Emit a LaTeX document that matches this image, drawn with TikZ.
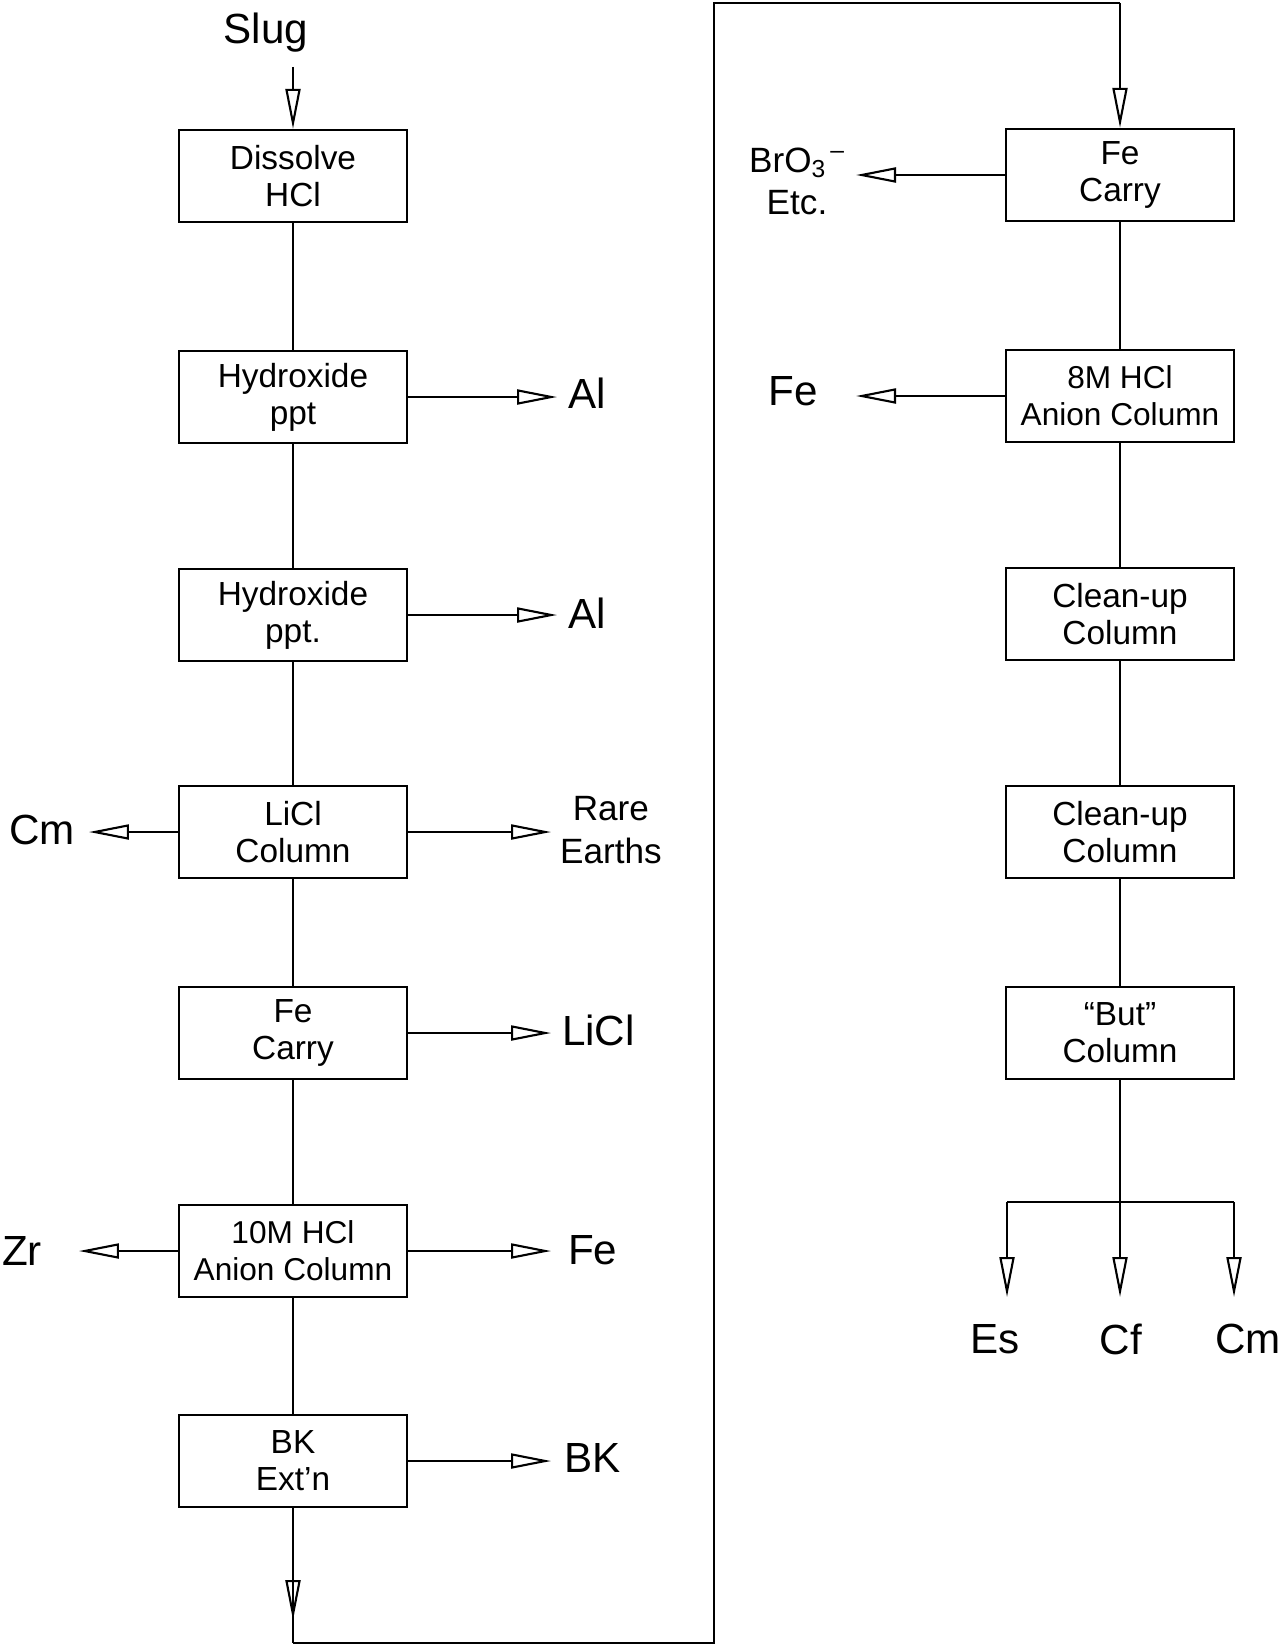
\documentclass[tikz,border=0pt]{standalone}
\usepackage{fontspec}
\setmainfont{Liberation Sans}
\usetikzlibrary{arrows.meta,decorations.markings}
\begin{document}
\begin{tikzpicture}[x=0.02cm,y=-0.02cm,
  box/.style={draw, line width=1.1pt, minimum width=4.55cm, minimum height=1.85cm, align=center, font=\fontsize{19}{21}\selectfont, inner sep=0pt},
  lab/.style={font=\fontsize{24}{25}\selectfont, align=center, inner sep=1pt},
  slab/.style={font=\fontsize{20}{24}\selectfont, align=center, inner sep=1pt},
  conn/.style={line width=1.4pt},
  arr/.style={conn, -{Triangle[open, length=0.8cm, width=0.3cm, line width=1.2pt]}},
  midarr/.style={conn, postaction={decorate}, decoration={markings, mark=at position #1 with {\arrow{Triangle[open, length=0.8cm, width=0.3cm, line width=1.2pt]}}}}
]
\fill[white] (0,0) rectangle (1281,1646);
\useasboundingbox (0,0) rectangle (1281,1646);

% left column
\node[lab] (slug) at (266,33) {Slug};
\node[box] (dis) at (293,176) {Dissolve\\HCl};
\node[box] (hyd1) at (293,397) {Hydroxide\\ppt};
\node[box] (hyd2) at (293,615) {Hydroxide\\ppt.};
\node[box] (licl) at (293,832) {LiCl\\Column};
\node[box] (fec) at (293,1033) {Fe\\Carry};
\node[box, font=\fontsize{18}{21}\selectfont] (an10) at (293,1251) {10M HCl\\Anion Column};
\node[box] (bk) at (293,1461) {BK\\Ext'n};

% right column
\node[box] (fe2) at (1120,175) {Fe\\Carry};
\node[box, font=\fontsize{18}{21}\selectfont] (an8) at (1120,396) {8M HCl\\Anion Column};
\node[box] (cu1) at (1120,614) {Clean-up\\Column};
\node[box] (cu2) at (1120,832) {Clean-up\\Column};
\node[box] (but) at (1120,1033) {“But”\\Column};

% outputs left column
\coordinate (e1) at (557,397);
\coordinate (e2) at (557,615);
\coordinate (e3) at (551,832);
\coordinate (e4) at (551,1033);
\coordinate (e5) at (551,1251);
\coordinate (e6) at (551,1461);
\coordinate (w3) at (89,832);
\coordinate (w5) at (79,1251);
\node[lab, anchor=west] (al1) at (566,393) {Al};
\node[lab, anchor=west] (al2) at (566,613) {Al};
\node[slab, anchor=west] (re) at (558,830) {Rare\\Earths};
\node[lab, anchor=west] (li) at (560,1030) {LiCl};
\node[lab, anchor=west] (fe3) at (566,1250) {Fe};
\node[lab, anchor=west] (bko) at (562,1458) {BK};
\node[lab] (cm1) at (42,830) {Cm};
\node[lab] (zr) at (22,1251) {Zr};

% outputs right column
\coordinate (w1) at (856,175);
\coordinate (w2) at (856,396);
\node[slab] (bro) at (797,181) {BrO\textsubscript{3}\textsuperscript{\,–}\\Etc.};
\node[lab] (fe4) at (793,391) {Fe};

% branch
\coordinate (j) at (1120,1202);
\coordinate (jl) at (1007,1202);
\coordinate (jr) at (1234,1202);
\coordinate (ees) at (1007,1297);
\coordinate (ecf) at (1120,1297);
\coordinate (ecm) at (1234,1297);
\node[lab] (es) at (995,1339) {Es};
\node[lab] (cf) at (1121,1339) {Cf};
\node[lab] (cm2) at (1248,1339) {Cm};

% loop
\coordinate (c1) at (293,1643);
\coordinate (c2) at (714,1643);
\coordinate (c3) at (714,3);
\coordinate (c4) at (1120,3);

% connectors
\draw[arr] (slug.south -| dis.north) ++(0,12) -- (dis.north);
\draw[conn] (dis) -- (hyd1);
\draw[conn] (hyd1) -- (hyd2);
\draw[conn] (hyd2) -- (licl);
\draw[conn] (licl) -- (fec);
\draw[conn] (fec) -- (an10);
\draw[conn] (an10) -- (bk);
\draw[arr] (hyd1.east) -- (e1);
\draw[arr] (hyd2.east) -- (e2);
\draw[arr] (licl.east) -- (e3);
\draw[arr] (fec.east) -- (e4);
\draw[arr] (an10.east) -- (e5);
\draw[arr] (bk.east) -- (e6);
\draw[arr] (licl.west) -- (w3);
\draw[arr] (an10.west) -- (w5);

\draw[midarr=0.83] (bk.south) -- (c1);
\draw[conn] (c1) -- (c2) -- (c3) -- (c4);
\draw[arr] (c4) -- (fe2.north);

\draw[conn] (fe2) -- (an8);
\draw[conn] (an8) -- (cu1);
\draw[conn] (cu1) -- (cu2);
\draw[conn] (cu2) -- (but);
\draw[arr] (fe2.west) -- (w1);
\draw[arr] (an8.west) -- (w2);

\draw[conn] (but) -- (j);
\draw[conn] (jl) -- (jr);
\draw[arr] (jl) -- (ees);
\draw[arr] (j) -- (ecf);
\draw[arr] (jr) -- (ecm);
\end{tikzpicture}
\end{document}
